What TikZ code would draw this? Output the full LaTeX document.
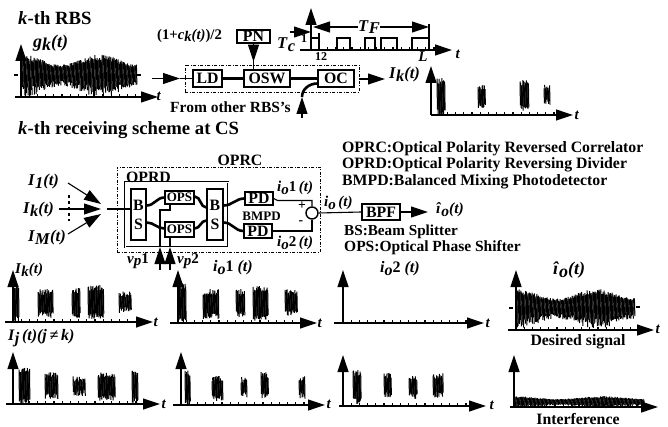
\documentclass[tikz,border=0pt]{standalone}
\usepackage{fontspec}
\setmainfont{Liberation Serif}
\usetikzlibrary{arrows.meta,calc}
\tikzset{
  arrowed/.style={-{Triangle[length=17pt,width=11pt]}},
  boxn/.style={draw,line width=1.4pt,inner sep=0pt,font=\bx,fill=white},
  txt/.style={font=\lab,inner sep=0pt},
  txtw/.style={font=\lab,inner sep=0pt,anchor=west},
  thickl/.style={line width=2.6pt},
  thinl/.style={line width=1.1pt},
  axisl/.style={line width=1.2pt},
  sig/.style={line width=1pt},
}
\newcommand{\lab}{\fontsize{13.6}{14}\selectfont\bfseries}
\newcommand{\bx}{\fontsize{15.8}{16}\selectfont\bfseries}
\newcommand{\sm}{\fontsize{12}{12}\selectfont\bfseries}
\newcommand{\lfs}{\fontsize{15.8}{16}\selectfont\bfseries}
\newcommand{\hfs}{\fontsize{18.7}{19}\selectfont\bfseries}
\newcommand{\ffs}{\fontsize{15.5}{16}\selectfont\bfseries}
\newcommand{\vfs}{\fontsize{15}{15}\selectfont\bfseries}
\newcommand{\wfs}{\fontsize{16.5}{17}\selectfont\bfseries}
\newcommand{\vr}[1]{\textit{#1}}
\newcommand{\sbs}[1]{\raisebox{-0.35ex}{\textit{#1}}}
\newcommand{\axes}[6]{% name, x0, ybase, ytop, xleft, xright
  \coordinate (#1-o) at (#2,#3);
  \coordinate (#1-y) at (#2,#4);
  \coordinate (#1-l) at (#5,#3);
  \coordinate (#1-r) at (#6,#3);
  \draw[axisl,arrowed] (#1-o) -- (#1-y);
  \draw[axisl,arrowed] (#1-l) -- (#1-r);
  \pgfmathsetmacro{\nt}{int((#6-#2-18)/8.2)}
  \foreach \i in {1,...,\nt}{\draw[thinl] ($(#1-o)+(\i*8.2,0)$) -- ++(0,-3);}
}
\newcommand{\burst}[4]{%
  \pgfmathsetmacro{\nb}{int((#2-#1)/0.7)}
  \foreach \i in {0,...,\nb}{
    \pgfmathsetmacro{\xa}{#1+\i*0.7}
    \pgfmathsetmacro{\ya}{#3+rnd*6}
    \pgfmathsetmacro{\yb}{#4-rnd*6}
    \draw[sig] (\xa,\ya) -- (\xa+0.4,\yb);
  }
}
\newcommand{\envsig}[5]{% x0 x1 yc amp ybottomlimit-extra
  \pgfmathsetmacro{\nb}{int((#2-#1)/0.8)}
  \foreach \i in {0,...,\nb}{
    \pgfmathsetmacro{\tt}{\i/\nb}
    \pgfmathsetmacro{\am}{#4*(1+0.32*cos(530*\tt))}
    \pgfmathsetmacro{\ya}{#3-\am*(0.8+0.3*rnd)}
    \pgfmathsetmacro{\yb}{#3+\am*(0.6+#5*rnd)}
    \draw[sig] (#1+\i*0.8,\ya) -- (#1+\i*0.8+0.5,\yb);
  }
}
\begin{document}
\begin{tikzpicture}[x=1pt,y=-1pt]
\useasboundingbox (0,0) rectangle (668,427);
\pgfmathsetseed{4711}

% ---------- top: transmitter
\node[txtw] (t1) at (18,18) {\hfs\textit{k}-th RBS};
\node[txtw] (gk) at (33,43) {\fontsize{18}{18}\selectfont\bfseries\vr{g}\sbs{k}\vr{(t)}};
\axes{ga}{21}{97}{44}{15}{158}
\envsig{22}{137}{75}{14}{0.6}
\draw[thinl] (14,75) -- (18,75) (137,75) -- (141,75);
\node[txt] (gt) at (159,96) {\vfs\vr{t}};

\node[draw,dash pattern=on 3pt off 1.5pt on 1pt off 1.5pt,line width=0.9pt,minimum width=174pt,minimum height=27pt,inner sep=0pt] (txbox) at (272,78.5) {};
\node[boxn,minimum width=29pt,minimum height=17pt] (LD) at (207.5,78.5) {LD};
\node[boxn,minimum width=46pt,minimum height=17pt] (OSW) at (267,78.5) {OSW};
\node[boxn,minimum width=36pt,minimum height=17pt] (OC) at (336,78.5) {OC};
\node[boxn,minimum width=33pt,minimum height=13pt] (PN) at (253.5,36.5) {PN};
\coordinate (inB) at (180,78.5);
\coordinate (inA) at (152,78.5);
\draw[thinl,arrowed] (inA) -- (inB);
\draw[thinl] (inB) -- (LD.west);
\draw[thickl] (LD.east) -- (OSW.west);
\draw[thickl] (OSW.east) -- (OC.west);
\draw[thinl,arrowed] (PN.south) -- ($(PN.south)!0.7!(PN.south|-OSW.north)$);
\draw[thinl] (PN.south) -- (PN.south|-OSW.north);
\coordinate (otherA) at (302,118);
\coordinate (otherB) at (302,97);
\draw[thinl,arrowed] (otherA) -- (otherB);
\draw[thickl] (otherB) to[out=90,in=180] ([yshift=-5pt]OC.west);
\node[txtw] (from) at (170,107.5) {\ffs From other RBS's};
\node[txtw] (code) at (157,36) {\fontsize{14.7}{15}\selectfont\bfseries (1+\vr{c}\sbs{k}\vr{(t)})/2};
\node[txtw] (Tc) at (277,45) {\wfs\vr{T}\sbs{c}};
\coordinate (Tca) at (290,32);
\coordinate (Tcb) at (311,32);
\draw[thinl,arrowed] (Tca) -- (Tcb);

\axes{pa}{311}{50}{8}{300}{452}
\draw[thinl] (311,38) -| (319,50);
\draw[thinl] (319,38) -- (319,33);
\draw[thinl] (337,50) |- (350,38) -- (350,50);
\draw[thinl] (365,50) |- (375,38) -- (375,50);
\draw[thinl] (381,50) |- (397,38) -- (397,50);
\draw[thinl] (412,50) |- (429,38) -- (429,50);
\draw[thinl] (429,38) -- (429,24);
\node[txt] (TF) at (369,27) {\wfs\vr{T}\sbs{F}};
\coordinate (TFl) at (313,27);
\coordinate (TFr) at (429,27);
\draw[thinl,arrowed] (TF.west) -- (TFl);
\draw[thinl,arrowed] (TF.east) -- (TFr);
\node[txt] (n1) at (304,39) {\sm 1};
\node[txt] (n12) at (321,57) {\sm 12};
\node[txt] (nL) at (423,57) {\vfs\vr{L}};
\node[txt] (pt) at (458,54) {\vfs\vr{t}};

\coordinate (oa) at (385,79);
\draw[thinl,arrowed] (txbox.east|-oa) -- (oa);
\node[txtw] (Ikl) at (389,75) {\wfs\vr{I}\sbs{k}\vr{(t)}};
\axes{ik}{431}{115}{66}{431}{573}
\burst{437}{445}{78}{115}
\burst{478}{485}{84}{109}
\burst{520}{529}{80}{111}
\burst{544}{550}{84}{105}
\node[txt] (ikt) at (577,115) {\vfs\vr{t}};

\node[txtw] (t2) at (18,130) {\hfs\textit{k}-th receiving scheme at CS};

% ---------- receiver
\node[draw,dash pattern=on 3pt off 1.5pt on 1pt off 1.5pt,line width=0.9pt,minimum width=203pt,minimum height=85pt,inner sep=0pt] (OPRCb) at (218.5,209.5) {};
\node[draw,double,double distance=0.9pt,line width=0.7pt,minimum width=103pt,minimum height=65pt,inner sep=0pt] (OPRDb) at (176.5,214.5) {};
\node[txt] (OPRCt) at (240,160) {\lfs OPRC};
\node[txt] (OPRDt) at (148.5,177) {\lfs OPRD};
\node[boxn,minimum width=15pt,minimum height=51pt,align=center] (BS1) at (138.5,214.5) {B\\[3pt]S};
\node[boxn,minimum width=16pt,minimum height=51pt,align=center] (BS2) at (215,214.5) {B\\[3pt]S};
\node[boxn,minimum width=29pt,minimum height=13pt,font=\fontsize{13}{13}\selectfont\bfseries] (OPS1) at (179.5,197.5) {OPS};
\node[boxn,minimum width=29pt,minimum height=15pt,font=\fontsize{13}{13}\selectfont\bfseries] (OPS2) at (179.5,229.5) {OPS};
\node[boxn,minimum width=28pt,minimum height=13pt] (PD1) at (259,198.5) {PD};
\node[boxn,minimum width=28pt,minimum height=14pt] (PD2) at (258,231) {PD};
\node[txt,font=\fontsize{13}{13}\selectfont\bfseries] (BMPD) at (261.5,216) {BMPD};
\node[draw,circle,line width=1.4pt,minimum size=12pt,inner sep=0pt] (sum) at (312,213) {};
\node[txt] (plus) at (302,206) {+};
\node[txt] (minus) at (301,223) {-};
\node[txtw] (io1a) at (277,188) {\vfs\vr{i}\sbs{o}1\,\vr{(t)}};
\node[txtw] (io2a) at (277,243) {\vfs\vr{i}\sbs{o}2\,\vr{(t)}};
\draw[thinl] (PD1.east) -- ++(4,2) -| (sum.north);
\draw[thinl] (PD2.east) -| (sum.south);
\node[boxn,minimum width=38pt,minimum height=16pt] (BPF) at (381,212) {BPF};
\draw[thinl] (sum.east) -- (BPF.west);
\coordinate (ioe) at (428,212);
\draw[thinl,arrowed] (BPF.east) -- (ioe);
\node[txtw] (iol) at (324,203) {\vfs\vr{i}\sbs{o}\,\vr{(t)}};
\node[txtw] (ihat) at (436,210) {\fontsize{15.5}{16}\selectfont\bfseries\textit{î}\sbs{o}\vr{(t)}};

\coordinate (in0) at (107,209);
\draw[thickl] (in0) -- (BS1.west|-in0);
\coordinate (i1a) at (68,183); \coordinate (i1b) at (101,204);
\coordinate (i2a) at (59,209); \coordinate (i2b) at (101,209);
\coordinate (i3a) at (68,234); \coordinate (i3b) at (101,214);
\draw[thinl,arrowed] (i1a) -- (i1b);
\draw[thinl,arrowed] (i2a) -- (i2b);
\draw[thinl,arrowed] (i3a) -- (i3b);
\draw[thinl,dashed] (69,195) -- (69,221);
\node[txtw] (I1) at (28,182) {\wfs\vr{I}\sbs{1}\vr{(t)}};
\node[txtw] (Ik2) at (23,210) {\wfs\vr{I}\sbs{k}\vr{(t)}};
\node[txtw] (IM) at (28,238) {\wfs\vr{I}\sbs{M}\vr{(t)}};

\draw[thickl] ([yshift=9pt]BS1.east) to[out=0,in=180] ([yshift=0pt]OPS1.west);
\draw[thickl] ([yshift=-8pt]BS1.east) to[out=0,in=180] ([yshift=1pt]OPS2.west);
\draw[thickl] ([yshift=1pt]OPS1.east) to[out=0,in=180] ([yshift=7pt]BS2.west);
\draw[thickl] ([yshift=1pt]OPS2.east) to[out=0,in=180] ([yshift=-6pt]BS2.west);
\draw[thickl] ([yshift=9pt]BS2.east) to[out=0,in=180] (PD1.west);
\draw[thickl] ([yshift=-8pt]BS2.east) to[out=0,in=180] (PD2.west);

\coordinate (vp1) at (160,270);
\coordinate (vp2) at (170,270);
\coordinate (vp1t) at (160,247);
\coordinate (vp2t) at (170,247);
\draw[thinl,arrowed] (vp1) -- (vp1t);
\draw[thinl,arrowed] (vp2) -- (vp2t);
\draw[thinl] (vp1t) -- (160,210) -- (170,210) -- (170,204);
\draw[thinl] (vp2t) -- (vp2t|-OPS2.south);
\node[txtw] (vp1l) at (127,261) {\vfs\vr{v}\sbs{p}1};
\node[txtw] (vp2l) at (177,261) {\vfs\vr{v}\sbs{p}2};

\node[txtw] (L1) at (342,148.5) {\lfs OPRC:Optical Polarity Reversed Correlator};
\node[txtw] (L2) at (342,165) {\lfs OPRD:Optical Polarity Reversing Divider};
\node[txtw] (L3) at (342,182) {\lfs BMPD:Balanced Mixing Photodetector};
\node[txtw] (L4) at (344,232) {\fontsize{15.2}{16}\selectfont\bfseries BS:Beam Splitter};
\node[txtw] (L5) at (344,248) {\fontsize{15.5}{16}\selectfont\bfseries OPS:Optical Phase Shifter};

% ---------- bottom plots
\node[txtw] (pA) at (15,270) {\fontsize{15}{15}\selectfont\bfseries\vr{I}\sbs{k}\vr{(t)}};
\node[txtw] (pB) at (213,268) {\fontsize{16}{16}\selectfont\bfseries\vr{i}\sbs{o}1\ \vr{(t)}};
\node[txtw] (pC) at (380,269) {\fontsize{16}{16}\selectfont\bfseries\vr{i}\sbs{o}2\ \vr{(t)}};
\node[txtw] (pD) at (553,270) {\fontsize{18}{18}\selectfont\bfseries\textit{î}\sbs{o}\vr{(t)}};
\node[txtw] (pE) at (8,338) {\fontsize{16}{16}\selectfont\bfseries\vr{I}\sbs{j}\,\vr{(t)(j\,≠\,k)}};

\axes{A}{13}{322}{270}{5}{153}
\burst{13}{19}{283}{322}
\burst{38}{53}{289}{318}
\burst{72}{80}{288}{318}
\burst{88}{104}{285}{319}
\burst{119}{131}{291}{313}
\node[txt] (At) at (156,322) {\vfs\vr{t}};

\axes{B}{178}{323}{270}{170}{317}
\burst{178}{186}{283}{323}
\burst{203}{219}{289}{319}
\burst{236}{245}{289}{317}
\burst{253}{268}{286}{321}
\burst{285}{297}{289}{316}
\node[txt] (Bt) at (320,323) {\vfs\vr{t}};

\axes{C}{343}{323}{270}{334}{484}
\node[txt] (Ct) at (488,323) {\vfs\vr{t}};

\axes{D}{516}{330}{270}{508}{654}
\envsig{516}{635}{308}{13}{0.6}
\draw[thinl] (509,308) -- (513,308) (636,307) -- (640,307);
\node[txt] (Dt) at (658,329) {\vfs\vr{t}};
\node[txt] (Dd) at (578,342) {\lfs Desired signal};

\axes{E}{13}{404}{352}{6}{160}
\burst{19}{30}{367}{404}
\burst{45}{58}{372}{399}
\burst{73}{85}{376}{396}
\burst{98}{115}{372}{401}
\burst{132}{138}{370}{403}
\node[txt] (Et) at (164,404) {\vfs\vr{t}};

\axes{F}{181}{405}{352}{173}{325}
\burst{185}{190}{370}{405}
\burst{212}{223}{376}{401}
\burst{241}{247}{377}{398}
\burst{261}{268}{372}{399}
\burst{299}{305}{376}{399}
\node[txt] (Ft) at (329,404) {\vfs\vr{t}};

\axes{G}{343}{406}{355}{339}{486}
\burst{353}{361}{370}{404}
\burst{384}{391}{373}{398}
\burst{409}{417}{376}{399}
\burst{433}{443}{373}{398}
\node[txt] (Gt) at (492,405) {\vfs\vr{t}};

\axes{H}{514}{407}{355}{510}{658}
\envsig{515}{644}{402}{4}{0.6}
\node[txt] (Hd) at (578,419) {\lfs Interference};
\end{tikzpicture}
\end{document}
